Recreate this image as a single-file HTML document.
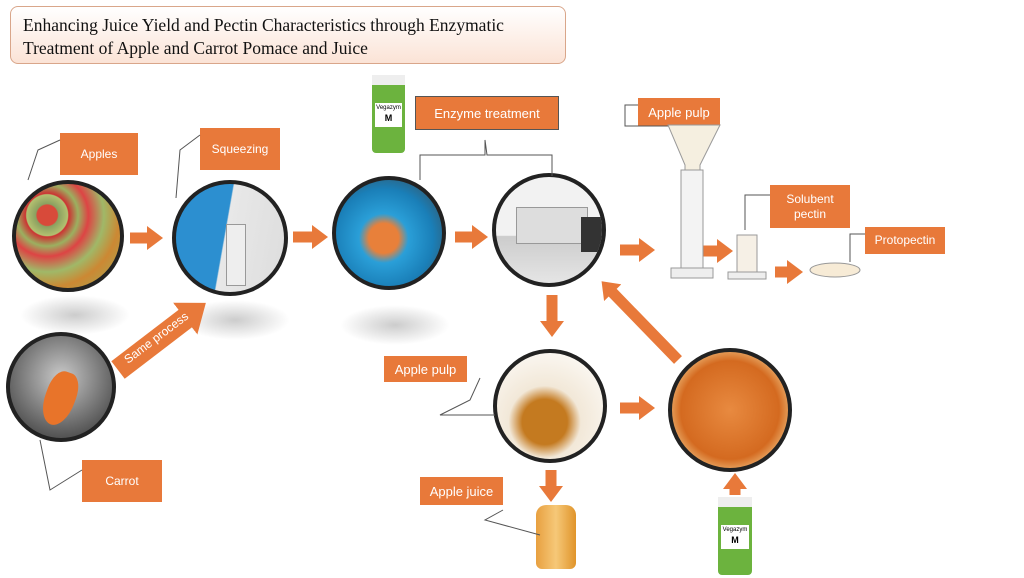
<!DOCTYPE html>
<html><head><meta charset="utf-8">
<style>
body{margin:0;width:1024px;height:578px;background:#fff;overflow:hidden;position:relative;font-family:"Liberation Sans",sans-serif}
.t{position:absolute;left:10px;top:6px;width:556px;height:58px;border:1px solid #d9a68a;border-radius:8px;background:linear-gradient(#fff,#fbe3d6);box-sizing:border-box;padding:7px 12px;font-family:"Liberation Serif",serif;font-size:17.5px;line-height:23px;color:#111}
.l{position:absolute;background:#e8793a;color:#fff;font-size:12px;display:flex;align-items:center;justify-content:center;text-align:center;line-height:15px}
.c{position:absolute;border-radius:50%;border:4px solid #222;box-sizing:border-box;overflow:hidden}
.sh{position:absolute;border-radius:50%;background:radial-gradient(#ccc,rgba(255,255,255,0) 70%)}
svg{position:absolute;left:0;top:0}
</style></head><body>
<div class="t">Enhancing Juice Yield and Pectin Characteristics through Enzymatic<br>Treatment of Apple and Carrot Pomace and Juice</div>

<div class="sh" style="left:20px;top:295px;width:110px;height:40px"></div>
<div class="sh" style="left:180px;top:300px;width:110px;height:40px"></div>
<div class="sh" style="left:340px;top:305px;width:110px;height:40px"></div>

<div class="c" style="left:12px;top:180px;width:112px;height:112px;background:radial-gradient(circle at 30% 30%,#d84a3a 10%,#8aa060 11%,#b3c070 20%,#c33 21%,#9bb060 30%,#d44 40%,#a0b868 55%,#c83 70%,#9ab05a)"></div>
<div class="c" style="left:172px;top:180px;width:116px;height:116px;background:linear-gradient(100deg,#2c8fd0 45%,#e8e8e8 46%,#ddd)"><div style="position:absolute;left:50px;top:40px;width:18px;height:60px;background:#eee;border:1px solid #999"></div></div>
<div class="c" style="left:332px;top:176px;width:114px;height:114px;background:radial-gradient(circle at 45% 55%,#e8803a 18%,#2a9fd8 30%,#1a7fb8 60%,#444)"></div>
<div class="c" style="left:492px;top:173px;width:114px;height:114px;background:linear-gradient(#f2f2f2 55%,#ccc 56%,#e5e5e5)"><div style="position:absolute;left:20px;top:30px;width:70px;height:35px;background:#ddd;border:1px solid #999"></div><div style="position:absolute;left:85px;top:40px;width:22px;height:35px;background:#333"></div></div>
<div class="c" style="left:6px;top:332px;width:110px;height:110px;background:radial-gradient(circle at 50% 40%,#c9c9c9,#555 75%)"><div style="position:absolute;left:35px;top:35px;width:30px;height:55px;background:#e8742a;border-radius:40% 40% 50% 50%;transform:rotate(20deg)"></div></div>
<div class="c" style="left:493px;top:349px;width:114px;height:114px;background:radial-gradient(circle at 45% 65%,#c47a20 25%,#f2e8d8 40%,#fff)"></div>
<div class="c" style="left:668px;top:348px;width:124px;height:124px;background:radial-gradient(#e88a40,#d46a20 60%,#f0c080 80%,#c86820)"></div>

<div class="l" style="left:60px;top:133px;width:78px;height:42px">Apples</div>
<div class="l" style="left:200px;top:128px;width:80px;height:42px">Squeezing</div>
<div class="l" style="left:415px;top:96px;width:142px;height:32px;border:1px solid #555;font-size:13px">Enzyme treatment</div>
<div class="l" style="left:638px;top:98px;width:82px;height:28px;font-size:13px">Apple pulp</div>
<div class="l" style="left:770px;top:185px;width:80px;height:43px">Solubent<br>pectin</div>
<div class="l" style="left:865px;top:227px;width:80px;height:27px">Protopectin</div>
<div class="l" style="left:384px;top:356px;width:83px;height:26px;font-size:13px">Apple pulp</div>
<div class="l" style="left:420px;top:477px;width:83px;height:28px;font-size:13px">Apple juice</div>
<div class="l" style="left:82px;top:460px;width:80px;height:42px">Carrot</div>

<div style="position:absolute;left:372px;top:75px;width:33px;height:78px;background:#6cb33e;border-radius:4px"><div style="background:#eee;height:10px"></div><div style="background:#fff;margin:18px 3px;height:24px;font-size:6px;text-align:center;line-height:10px">Vegazym<br><b style="font-size:9px">M</b></div></div>
<div style="position:absolute;left:718px;top:497px;width:34px;height:78px;background:#6cb33e;border-radius:4px"><div style="background:#eee;height:10px"></div><div style="background:#fff;margin:18px 3px;height:24px;font-size:6px;text-align:center;line-height:10px">Vegazym<br><b style="font-size:9px">M</b></div></div>
<div style="position:absolute;left:536px;top:505px;width:40px;height:64px;background:linear-gradient(90deg,#e8a040,#f6c878,#e0942a);border-radius:10px 10px 6px 6px"></div>

<svg width="1024" height="578">
<defs>
<marker id="a" markerUnits="userSpaceOnUse" markerWidth="16" markerHeight="24" refX="1" refY="12" orient="auto"><path d="M0,0L16,12L0,24z" fill="#e8793a"/></marker>
<marker id="b" markerUnits="userSpaceOnUse" markerWidth="26" markerHeight="40" refX="1" refY="20" orient="auto"><path d="M0,0L26,20L0,40z" fill="#e8793a"/></marker>
</defs>
<g stroke="#e8793a" stroke-width="11" marker-end="url(#a)" fill="none">
<line x1="130" y1="238" x2="148" y2="238"/>
<line x1="293" y1="237" x2="313" y2="237"/>
<line x1="455" y1="237" x2="473" y2="237"/>
<line x1="620" y1="250" x2="640" y2="250"/>
<line x1="703" y1="251" x2="718" y2="251"/>
<line x1="775" y1="272" x2="788" y2="272"/>
<line x1="552" y1="295" x2="552" y2="322"/>
<line x1="620" y1="408" x2="640" y2="408"/>
<line x1="551" y1="470" x2="551" y2="487"/>
<line x1="735" y1="495" x2="735" y2="488"/>
<line x1="678" y1="360" x2="612" y2="292"/>
</g>
<g stroke="#e8793a" stroke-width="22" marker-end="url(#b)"><line x1="118" y1="370" x2="186" y2="318"/></g>
<text x="128" y="364" fill="#fff" font-size="12" transform="rotate(-37 128 364)" font-family="Liberation Sans">Same process</text>
<g stroke="#555" stroke-width="1" fill="none">
<polyline points="60,140 38,150 28,180"/>
<polyline points="200,135 180,150 176,198"/>
<polyline points="420,180 420,155 485,155 485,140 487,155 552,155 552,176"/>
<polyline points="638,105 625,105 625,126 680,126"/>
<polyline points="770,195 745,195 745,230"/>
<polyline points="865,234 850,234 850,262"/>
<polyline points="480,378 470,400 440,415 495,415"/>
<polyline points="503,510 485,520 540,535"/>
<polyline points="40,440 50,490 82,470"/>
</g>
<g stroke="#999" fill="none">
<path d="M668,125 L720,125 L700,165 L700,265 L685,265 L685,165 Z" fill="#f5efe0"/>
<rect x="681" y="170" width="22" height="100" fill="#f3f3f3"/>
<rect x="671" y="268" width="42" height="10" fill="#eee"/>
<rect x="737" y="235" width="20" height="38" fill="#f6f0e6"/>
<rect x="728" y="272" width="38" height="7" fill="#eee"/>
<ellipse cx="835" cy="270" rx="25" ry="7" fill="#f7ebd6"/>
</g>
</svg>
</body></html>
